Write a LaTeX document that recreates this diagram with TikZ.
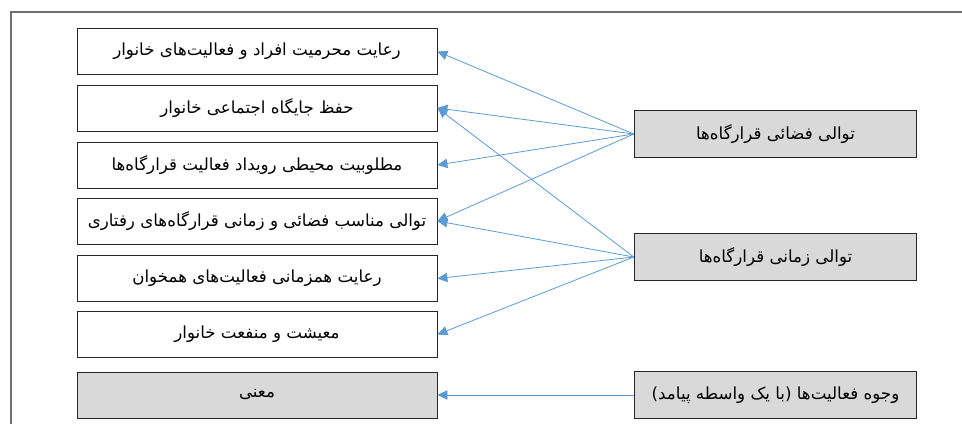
\documentclass[tikz,border=0pt]{standalone}
\usepackage{fontspec}
\newfontfamily\farsi[Script=Arabic]{DejaVu Sans}
\TeXXeTstate=1
\usetikzlibrary{arrows.meta}

\definecolor{linkblue}{HTML}{5B9BD5}
\definecolor{boxgrey}{HTML}{D9D9D9}
\definecolor{framegrey}{HTML}{6E6E6E}

\newcommand{\fa}[1]{\farsi\beginR #1\endR}

\begin{document}
\begin{tikzpicture}[x=0.75pt,y=-0.75pt,
                    >={Triangle[length=7.5pt,width=7pt]},
                    leftbox/.style={draw=black!85,line width=0.6pt,minimum width=270pt,
                                    minimum height=34.5pt,inner sep=0pt,
                                    font=\fontsize{12.5}{14}\selectfont},
                    rightbox/.style={leftbox,fill=boxgrey,minimum width=212pt,minimum height=35pt},
                    link/.style={->,draw=linkblue,line width=0.6pt}]
  \useasboundingbox (0,0) rectangle (962,424);
  % frame
  \draw[framegrey,line width=1.1pt] (11,424) -- (11,12) -- (962,12);

  \node[leftbox]          (r1) at (257,51.5) {\fa{رعایت محرمیت افراد و فعالیت‌های خانوار}};
  \node[leftbox]          (r2) at (257,108)  {\fa{حفظ جایگاه اجتماعی خانوار}};
  \node[leftbox]          (r3) at (257,165)  {\fa{مطلوبیت محیطی رویداد فعالیت قرارگاه‌ها}};
  \node[leftbox]          (r4) at (257,221)  {\fa{توالی مناسب فضائی و زمانی قرارگاه‌های رفتاری}};
  \node[leftbox]          (r5) at (257,278.5){\fa{رعایت همزمانی فعالیت‌های همخوان}};
  \node[leftbox]          (r6) at (257,334.5){\fa{معیشت و منفعت خانوار}};
  \node[leftbox,fill=boxgrey] (r7) at (257,395) {\fa{معنی}};

  \node[rightbox]         (space) at (775.5,134)  {\fa{توالی فضائی قرارگاه‌ها}};
  \node[rightbox]         (time)  at (775.5,257)  {\fa{توالی زمانی قرارگاه‌ها}};
  \node[rightbox]         (aspect) at (775.5,395) {\fa{وجوه فعالیت‌ها (با یک واسطه پیامد)}};

  \path (space.west) edge[link] (r1.east)
                     edge[link] (r2.east)
                     edge[link] (r3.east)
                     edge[link] (r4.east);
  \path (time.west)  edge[link] (r2.east)
                     edge[link] (r4.east)
                     edge[link] (r5.east)
                     edge[link] (r6.east);
  \path (aspect.west) edge[link] (r7.east);

\end{tikzpicture}
\end{document}
